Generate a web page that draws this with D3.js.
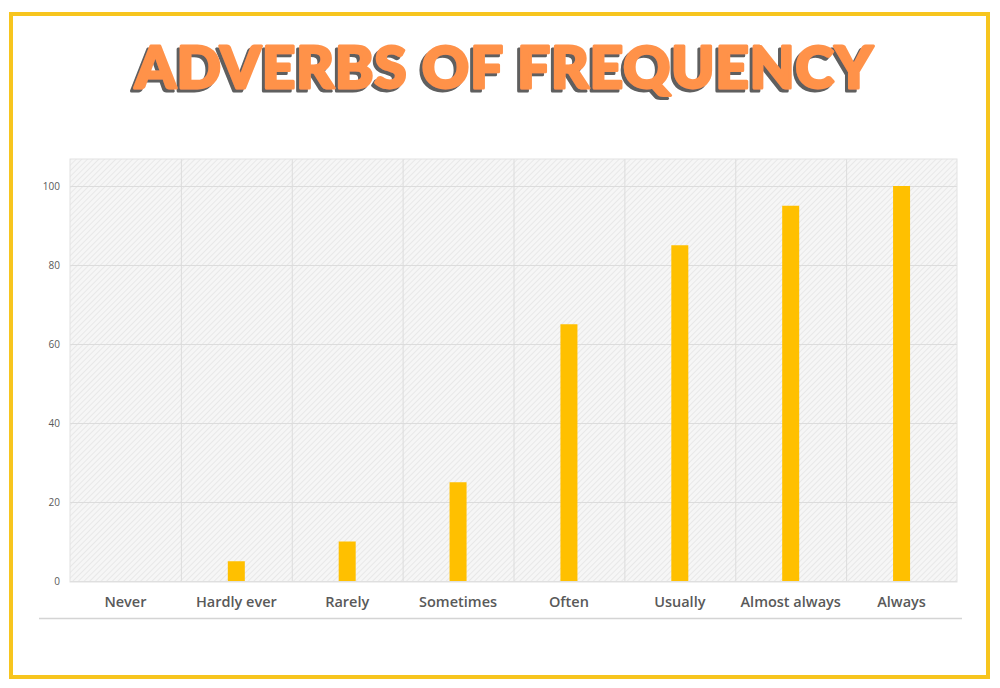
<!DOCTYPE html>
<html>
<head>
<meta charset="utf-8">
<script src="https://cdn.jsdelivr.net/npm/d3@7"></script>
<style>
  body { margin: 0; background: #fff; }
  svg { display: block; }
</style>
</head>
<body>
<script>
const width = 1000, height = 688;
const margin = { top: 159, right: 43, bottom: 106, left: 70 };

const categories = ["Never", "Hardly ever", "Rarely", "Sometimes", "Often", "Usually", "Almost always", "Always"];
const values = [0, 5, 10, 25, 65, 85, 95, 100];
const yTicks = [0, 20, 40, 60, 80, 100];
const titleText = "ADVERBS OF FREQUENCY";

const svg = d3.select("body").append("svg").attr("width", width).attr("height", height);

const defs = svg.append("defs");
// hatch pattern for the plot background
const pat = defs.append("pattern")
    .attr("id", "hatch")
    .attr("patternUnits", "userSpaceOnUse")
    .attr("width", 4).attr("height", 4)
    .attr("patternTransform", "rotate(45)");
pat.append("rect").attr("width", 4).attr("height", 4).attr("fill", "#f6f6f6");
pat.append("line").attr("x1", 0).attr("y1", 0).attr("x2", 0).attr("y2", 4)
    .attr("stroke", "#e4e4e4").attr("stroke-width", 1.5);

// hard shadow for the title (one text, no duplicate)
defs.append("filter").attr("id", "shadow")
    .attr("x", "-5%").attr("y", "-20%").attr("width", "110%").attr("height", "140%")
    .append("feDropShadow")
    .attr("dx", -3).attr("dy", 3).attr("stdDeviation", 0.4)
    .attr("flood-color", "#5f5f5f").attr("flood-opacity", 1);

// outer yellow frame
svg.append("rect")
    .attr("x", 11).attr("y", 14)
    .attr("width", 977).attr("height", 663)
    .attr("fill", "none").attr("stroke", "#f7c51e").attr("stroke-width", 4);

// title
svg.append("text")
    .attr("x", 135).attr("y", 88)
    .attr("textLength", 738).attr("lengthAdjust", "spacing")
    .attr("font-family", "Lato, sans-serif")
    .attr("font-weight", 900).attr("font-size", 58)
    .attr("fill", "#ff924a").attr("stroke", "#ff924a").attr("stroke-width", 3)
    .attr("stroke-linejoin", "round")
    .attr("filter", "url(#shadow)")
    .text(titleText);

const plotW = width - margin.left - margin.right;

const x = d3.scaleBand().domain(categories).range([0, plotW]);
const y = d3.scaleLinear().domain([0, 100]).range([422, 27]);

const g = svg.append("g").attr("transform", `translate(${margin.left},${margin.top})`);

g.append("rect").attr("width", plotW).attr("height", 423).attr("fill", "url(#hatch)");

// horizontal grid
g.append("g").selectAll("line").data(yTicks).enter().append("line")
    .attr("x1", 0).attr("x2", plotW)
    .attr("y1", d => y(d) + 0.5).attr("y2", d => y(d) + 0.5)
    .attr("stroke", "#dcdcdc").attr("stroke-width", 1);

// vertical grid at category boundaries
g.append("g").selectAll("line").data(categories.slice(1)).enter().append("line")
    .attr("x1", d => x(d) + 0.5).attr("x2", d => x(d) + 0.5)
    .attr("y1", 0).attr("y2", 423)
    .attr("stroke", "#dcdcdc").attr("stroke-width", 1);

// plot frame
g.append("rect").attr("width", plotW).attr("height", 423)
    .attr("fill", "none").attr("stroke", "#e2e2e2").attr("stroke-width", 1);

// bars
const barW = 17;
g.append("g").selectAll("rect").data(values).enter().append("rect")
    .attr("x", (d, i) => x(categories[i]) + x.bandwidth() / 2 - barW / 2)
    .attr("y", d => y(d))
    .attr("width", barW)
    .attr("height", d => y(0) - y(d))
    .attr("fill", "#ffc000");

// y axis labels
const yAxis = d3.axisLeft(y).tickValues(yTicks).tickSize(0).tickPadding(10);
g.append("g").call(yAxis)
    .call(s => s.select(".domain").remove())
    .selectAll("text")
    .attr("font-family", "'Open Sans', sans-serif")
    .attr("font-size", 10)
    .attr("fill", "#595959");

// x axis labels
const xAxis = d3.axisBottom(x).tickSize(0).tickPadding(16);
g.append("g").attr("transform", `translate(0,${y(0)})`).call(xAxis)
    .call(s => s.select(".domain").remove())
    .selectAll("text")
    .attr("font-family", "'Open Sans', sans-serif")
    .attr("font-weight", 600)
    .attr("font-size", 14.5)
    .attr("fill", "#595959");

// separator line under the labels
svg.append("line")
    .attr("x1", 39).attr("x2", 962)
    .attr("y1", 618.5).attr("y2", 618.5)
    .attr("stroke", "#d4d4d4").attr("stroke-width", 1.5);
</script>
</body>
</html>
